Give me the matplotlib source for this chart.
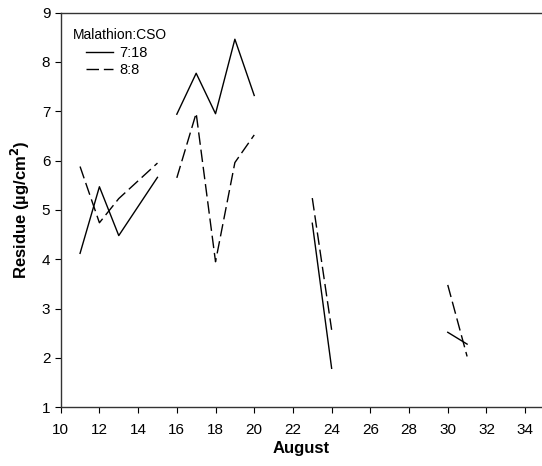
import numpy as np
import matplotlib
matplotlib.use("Agg")
import matplotlib.pyplot as plt
from matplotlib.lines import Line2D

plt.rcParams['font.family'] = ['Liberation Sans', 'DejaVu Sans']

nan = np.nan
days = [11, 12, 13, 15, nan, 16, 17, 18, 19, 20, nan, 23, 24, nan, 30, 31]
res_718 = [4.12, 5.47, 4.48, 5.66, nan, 6.94, 7.77, 6.95, 8.46, 7.32, nan, 4.73, 1.79, nan, 2.52, 2.28]
res_88 = [5.88, 4.74, 5.23, 5.95, nan, 5.65, 6.96, 3.95, 5.96, 6.52, nan, 5.24, 2.57, nan, 3.48, 2.03]
x_ticks = list(range(10, 35, 2))
y_ticks = list(range(1, 10))

fig = plt.figure(figsize=(5.42, 4.66), dpi=100)
ax = fig.add_axes([0.112, 0.126, 0.888, 0.847])

l1, = ax.plot(days, res_718, color='black', lw=1.0, label='7:18')
l2, = ax.plot(days, res_88, color='black', lw=1.0, dashes=(9, 3.5), label='8:8')

ax.set_xlim(10, 34.87)
ax.set_ylim(1, 9)
ax.set_xticks(x_ticks)
ax.set_yticks(y_ticks)
ax.tick_params(direction='out', length=4.5, width=0.8, labelsize=11)
ax.tick_params(axis='x', pad=6.5)
ax.tick_params(axis='y', pad=3)
ax.spines['right'].set_visible(False)
for s in ['top', 'left', 'bottom']:
    ax.spines[s].set_linewidth(1.0)
    ax.spines[s].set_color('#333333')

ax.set_xlabel('August', fontsize=12, fontweight='bold', labelpad=3)
ax.set_ylabel('Residue (\u00b5g/cm$^\\mathbf{2}$)', fontsize=12, fontweight='bold', labelpad=7)

# legend title and entries (entries indented as in the reference)
ax.text(0.0245, 0.9435, 'Malathion:CSO', transform=ax.transAxes, fontsize=10,
        ha='left', va='center')
leg = ax.legend(handles=[l1, l2], loc='upper left', frameon=False,
                fontsize=10.5, handlelength=1.85, borderaxespad=0, borderpad=0,
                labelspacing=0.22, handletextpad=0.45,
                bbox_to_anchor=(0.0526, 0.915))

fig.savefig('out.png', dpi=100)
